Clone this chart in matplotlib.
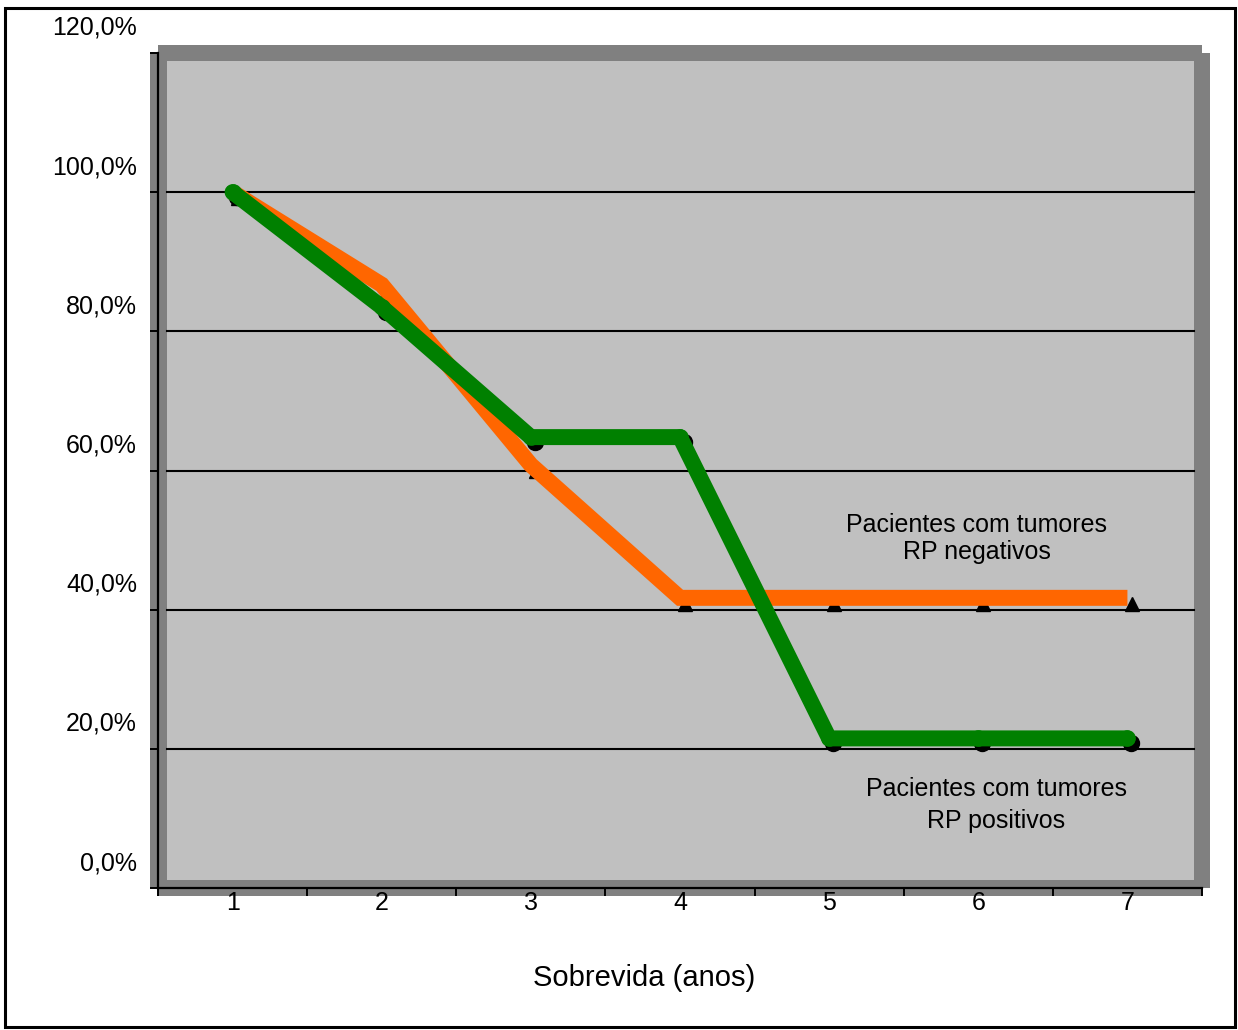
import matplotlib
matplotlib.use("Agg")
import matplotlib.pyplot as plt
from matplotlib.patches import Rectangle
import matplotlib.transforms as mtransforms

plt.rcParams['font.family'] = ['Liberation Sans', 'DejaVu Sans']

# ---- data ----
years = [1, 2, 3, 4, 5, 6, 7]
rp_negativos = [100.0, 86.7, 60.8, 41.7, 41.7, 41.7, 41.7]
rp_positivos = [100.0, 83.5, 64.8, 64.8, 21.5, 21.5, 21.5]
y_ticks = [0, 20, 40, 60, 80, 100, 120]
y_tick_labels = ["0,0%", "20,0%", "40,0%", "60,0%", "80,0%", "100,0%", "120,0%"]
x_label = "Sobrevida (anos)"
label_neg = ["Pacientes com tumores", "RP negativos"]
label_pos = ["Pacientes com tumores", "RP positivos"]

W, H = 1238, 1030
DPI = 100
fig = plt.figure(figsize=(W / DPI, H / DPI), dpi=DPI)
fig.patch.set_facecolor('white')


def fx(px):
    return px / W


def fy(py):
    return 1 - py / H


def frect(x0, y0, x1, y1, **kw):
    r = Rectangle((fx(x0), fy(y1)), fx(x1) - fx(x0), fy(y0) - fy(y1),
                  transform=fig.transFigure, **kw)
    fig.add_artist(r)
    return r


DARK = '#808080'
LIGHT = '#C0C0C0'
ORANGE = '#FF6600'
GREEN = '#008000'

# figure border
frect(5, 8, 1235, 1027, facecolor='none', edgecolor='black', linewidth=2.2, zorder=5)

# plot area frames (3D look)
frect(158, 45, 1202, 896, facecolor=DARK, edgecolor='none', zorder=-3)
frect(150, 53, 1210, 888, facecolor=DARK, edgecolor='none', zorder=-3)
frect(167, 61, 1194, 880, facecolor=LIGHT, edgecolor='none', zorder=-2)

# axes
ax = fig.add_axes([fx(158), fy(888), fx(1202) - fx(158), fy(53) - fy(888)])
ax.set_facecolor('none')
ax.set_xlim(0.5, 7.5)
ax.set_ylim(0, 120)
for s in ['top', 'right']:
    ax.spines[s].set_visible(False)
for s in ['left', 'bottom']:
    ax.spines[s].set_linewidth(1.6)
    ax.spines[s].set_color('black')

ax.set_yticks(y_ticks)
ax.set_yticklabels([])
ax.tick_params(axis='y', direction='out', length=5.8, width=1.4, color='black')

ax.set_xticks([x + 0.5 for x in [0] + years])
ax.set_xticklabels([])
ax.set_xticks(years, minor=True)
ax.set_xticklabels([str(y) for y in years], minor=True, fontsize=18)
ax.tick_params(axis='x', which='major', direction='out', length=5.8, width=1.4)
ax.tick_params(axis='x', which='minor', length=0, pad=2)

# gridlines (only within the inner wall)
gx0 = (167 - 158) / (1202 - 158)
gx1 = (1194 - 158) / (1202 - 158)
for yv in y_ticks[1:-1]:
    ax.axhline(yv, xmin=gx0, xmax=gx1, color='black', linewidth=1.5, zorder=1)

# y tick labels, raised above their ticks like in the reference
ylab_trans = mtransforms.blended_transform_factory(ax.transAxes, ax.transData) + \
    mtransforms.ScaledTranslation(0, 25 / DPI, fig.dpi_scale_trans)
for yv, lab in zip(y_ticks, y_tick_labels):
    ax.text((137 - 158) / (1202 - 158), yv, lab, transform=ylab_trans,
            ha='right', va='center', fontsize=18, clip_on=False)

# marker shadows
sh_c = mtransforms.offset_copy(ax.transData, fig=fig, x=4, y=-5, units='dots')
sh_t = mtransforms.offset_copy(ax.transData, fig=fig, x=5, y=-6, units='dots')
ax.plot(years, rp_negativos, linestyle='none', marker='^', markersize=10,
        color='black', transform=sh_t, zorder=2, clip_on=False)
ax.plot(years, rp_positivos, linestyle='none', marker='o', markersize=11.5,
        color='black', transform=sh_c, zorder=2, clip_on=False)

# lines
ax.plot(years, rp_negativos, color=ORANGE, linewidth=11.5,
        solid_joinstyle='miter', solid_capstyle='butt', zorder=3, clip_on=False)
ax.plot(years, rp_positivos, color=GREEN, linewidth=11.5,
        solid_joinstyle='round', solid_capstyle='round', marker='o',
        markersize=12, markeredgewidth=0, zorder=4, clip_on=False)

# annotations
fig.text(fx(977), fy(532), label_neg[0], ha='center', va='baseline', fontsize=18)
fig.text(fx(977), fy(559), label_neg[1], ha='center', va='baseline', fontsize=18)
fig.text(fx(996), fy(796), label_pos[0], ha='center', va='baseline', fontsize=18)
fig.text(fx(996), fy(828), label_pos[1], ha='center', va='baseline', fontsize=18)

fig.text(fx(644), fy(986), x_label, ha='center', va='baseline', fontsize=21)

fig.savefig('out.png', dpi=DPI)
